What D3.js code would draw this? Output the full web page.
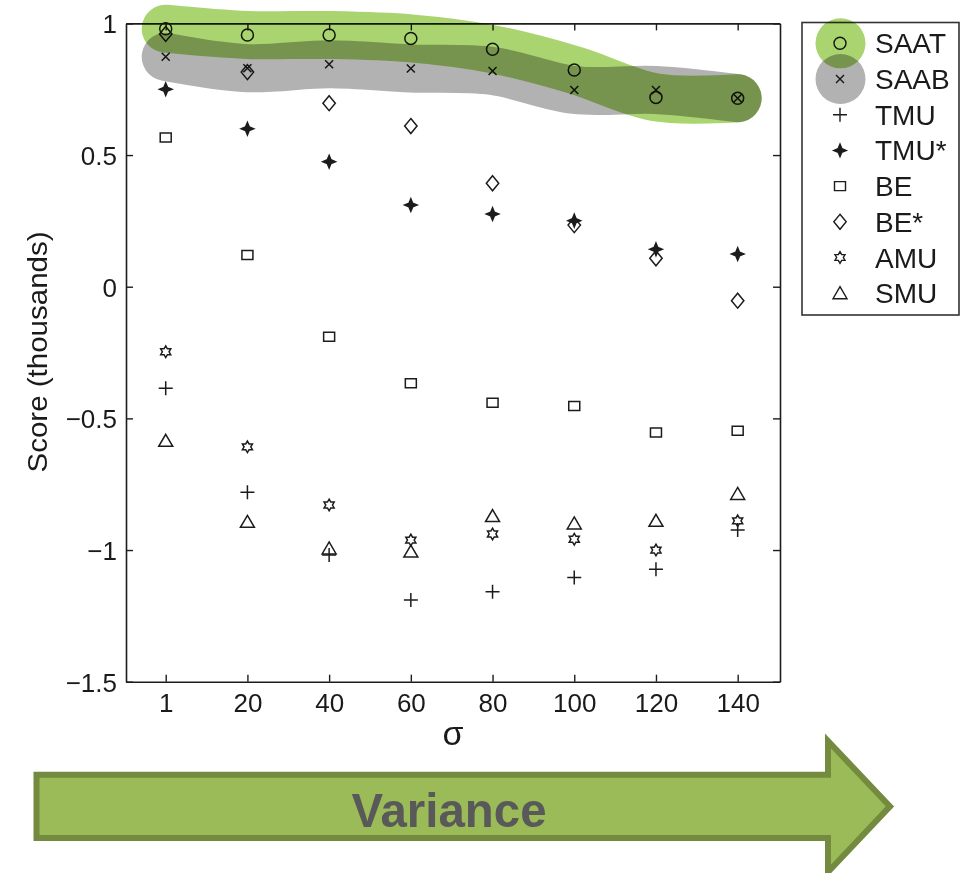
<!DOCTYPE html>
<html>
<head>
<meta charset="utf-8">
<script src="https://cdn.jsdelivr.net/npm/d3@7"></script>
<style>
  html, body { margin: 0; padding: 0; background: #ffffff; }
  svg { display: block; background: #ffffff; }
  text { font-family: "Liberation Sans", Arial, Helvetica, sans-serif; }
</style>
</head>
<body>
<script>
// ---------- data ----------
const sigmaLabels = ["1", "20", "40", "60", "80", "100", "120", "140"];
const yTickValues = [1, 0.5, 0, -0.5, -1, -1.5];
const seriesNames = ["SAAT", "SAAB", "TMU", "TMU*", "BE", "BE*", "AMU", "SMU"];
const saat    = [0.980, 0.956, 0.956, 0.943, 0.902, 0.823, 0.719, 0.716];
const saab    = [0.873, 0.830, 0.845, 0.829, 0.819, 0.747, 0.747, 0.716];
const tmu     = [-0.386, -0.781, -1.019, -1.190, -1.158, -1.104, -1.073, -0.924];
const tmuStar = [0.750, 0.600, 0.475, 0.310, 0.276, 0.251, 0.142, 0.124];
const be      = [0.567, 0.120, -0.190, -0.367, -0.441, -0.453, -0.554, -0.547];
const beStar  = [0.960, 0.815, 0.697, 0.610, 0.393, 0.234, 0.108, -0.053];
const amu     = [-0.247, -0.608, -0.829, -0.962, -0.939, -0.959, -1.000, -0.889];
const smu     = [-0.585, -0.893, -0.994, -1.006, -0.871, -0.899, -0.889, -0.787];
const highlightSeries = ["SAAT", "SAAB"];
const xTitle = "σ";
const yTitle = "Score (thousands)";
const arrowLabel = "Variance";

// ---------- layout ----------
const W = 962, H = 873;
const plot = { left: 126, right: 780, top: 23.4, bottom: 681.7 };
const ink = "#1c1c1c";
const greenBand = "#a9d470", grayBand = "#b2b2b2";

const svg = d3.select("body").append("svg").attr("width", W).attr("height", H);

const x = d3.scaleLinear().domain([-0.486, 7.518]).range([plot.left, plot.right]);
const y = d3.scaleLinear().domain([-1.5, 1]).range([plot.bottom, plot.top]);
const idx = sigmaLabels.map((_, i) => i);

// marker shapes
function starPath(n, rOut, rIn) {
  const pts = [];
  for (let k = 0; k < 2 * n; k++) {
    const r = k % 2 === 0 ? rOut : rIn;
    const a = -Math.PI / 2 + k * Math.PI / n;
    pts.push([r * Math.cos(a), r * Math.sin(a)]);
  }
  return "M" + pts.map(p => p[0].toFixed(2) + "," + p[1].toFixed(2)).join("L") + "Z";
}
const shapes = {
  "SAAT": { d: "M-6,0a6,6 0 1,0 12,0a6,6 0 1,0 -12,0", fill: "none" },
  "SAAB": { d: "M-4,-4L4,4M-4,4L4,-4", fill: "none" },
  "TMU":  { d: "M-7,0H7M0,-7V7", fill: "none" },
  "TMU*": { d: starPath(4, 6.3, 2.6) + "M-6.5,0H6.5M0,-6.5V6.5", fill: ink },
  "BE":   { d: "M-5.5,-4.5h11v9h-11z", fill: "none" },
  "BE*":  { d: "M0,-7.5L6.2,0L0,7.5L-6.2,0Z", fill: "none" },
  "AMU":  { d: starPath(6, 5.8, 3.35), fill: "none" },
  "SMU":  { d: "M0,-6.5L7,5.5H-7Z", fill: "none" }
};
const seriesData = { "SAAT": saat, "SAAB": saab, "TMU": tmu, "TMU*": tmuStar,
                     "BE": be, "BE*": beStar, "AMU": amu, "SMU": smu };

// ---------- axes ----------
const fmt = d => d === 0 ? "0" : String(d).replace("-", "\u2212");

const gBottom = svg.append("g").attr("transform", `translate(0,${plot.bottom})`)
  .call(d3.axisBottom(x).tickValues(idx).tickFormat(i => sigmaLabels[i])
        .tickSizeInner(-7).tickSizeOuter(0).tickPadding(12));
const gLeft = svg.append("g").attr("transform", `translate(${plot.left},0)`)
  .call(d3.axisLeft(y).tickValues(yTickValues).tickFormat(fmt)
        .tickSizeInner(-7).tickSizeOuter(0).tickPadding(9));
const gTop = svg.append("g").attr("transform", `translate(0,${plot.top})`)
  .call(d3.axisTop(x).tickValues(idx).tickFormat("").tickSizeInner(-7).tickSizeOuter(0));
const gRight = svg.append("g").attr("transform", `translate(${plot.right},0)`)
  .call(d3.axisRight(y).tickValues(yTickValues).tickFormat("").tickSizeInner(-7).tickSizeOuter(0));

[gBottom, gLeft, gTop, gRight].forEach(g => {
  g.select(".domain").attr("stroke", ink).attr("stroke-width", 1.6);
  g.selectAll(".tick line").attr("stroke", ink).attr("stroke-width", 1.4);
  g.selectAll(".tick text").attr("fill", "#1a1a1a").attr("font-size", 26)
    .attr("font-family", "'Liberation Sans', Arial, sans-serif");
});
gLeft.selectAll(".tick text").attr("dy", "0.36em");

// axis titles
svg.append("text")
  .attr("transform", `translate(47,352) rotate(-90)`)
  .attr("text-anchor", "middle")
  .attr("font-size", 28)
  .attr("textLength", 241).attr("lengthAdjust", "spacingAndGlyphs")
  .attr("fill", "#1a1a1a")
  .text(yTitle);

svg.append("text")
  .attr("x", (plot.left + plot.right) / 2).attr("y", 745)
  .attr("text-anchor", "middle")
  .attr("font-size", 34)
  .attr("font-family", "'Liberation Serif', 'DejaVu Serif', serif")
  .attr("fill", "#1a1a1a")
  .text(xTitle);

// ---------- markers ----------
seriesNames.forEach(name => {
  const vals = seriesData[name];
  svg.append("g").selectAll("path").data(vals).join("path")
    .attr("transform", (v, i) => `translate(${x(i)},${y(v)})`)
    .attr("d", shapes[name].d)
    .attr("fill", shapes[name].fill)
    .attr("stroke", ink)
    .attr("stroke-width", 1.5);
});

// ---------- highlight bands (multiply blend) ----------
const line = d3.line().x((v, i) => x(i)).y(v => y(v)).curve(d3.curveCatmullRom.alpha(0.5));
const bandColors = { "SAAT": greenBand, "SAAB": grayBand };
["SAAB", "SAAT"].forEach(name => {
  svg.append("path")
    .attr("d", line(seriesData[name]))
    .attr("fill", "none")
    .attr("stroke", bandColors[name])
    .attr("stroke-width", 48)
    .attr("stroke-linecap", "round")
    .attr("stroke-linejoin", "round")
    .style("mix-blend-mode", "multiply");
});

// ---------- legend ----------
const leg = svg.append("g");
leg.append("rect")
  .attr("x", 802).attr("y", 22.5).attr("width", 157).attr("height", 292.5)
  .attr("fill", "#ffffff").attr("stroke", "#333333").attr("stroke-width", 1.6);
const legY = i => 43.3 + i * 35.7;
seriesNames.forEach((name, i) => {
  leg.append("path")
    .attr("transform", `translate(840,${legY(i)})`)
    .attr("d", shapes[name].d)
    .attr("fill", shapes[name].fill)
    .attr("stroke", ink).attr("stroke-width", 1.4);
  leg.append("text")
    .attr("x", 875).attr("y", legY(i)).attr("dy", "0.36em")
    .attr("font-size", 28).attr("fill", "#1a1a1a")
    .text(name);
});
highlightSeries.slice().reverse().forEach(name => {
  const i = seriesNames.indexOf(name);
  leg.append("circle")
    .attr("cx", 840.5).attr("cy", legY(i)).attr("r", 25)
    .attr("fill", bandColors[name])
    .style("mix-blend-mode", "multiply");
});

// ---------- variance arrow ----------
const arrow = d3.path();
arrow.moveTo(36.5, 774.7);
arrow.lineTo(828, 774.7);
arrow.lineTo(828, 741);
arrow.lineTo(890, 806.4);
arrow.lineTo(828, 872);
arrow.lineTo(828, 838);
arrow.lineTo(36.5, 838);
arrow.closePath();
svg.append("path")
  .attr("d", arrow.toString())
  .attr("fill", "#9bbb59")
  .attr("stroke", "#738a3f")
  .attr("stroke-width", 6)
  .attr("stroke-linejoin", "miter");
svg.append("text")
  .attr("x", 449).attr("y", 826.7)
  .attr("text-anchor", "middle")
  .attr("font-size", 49).attr("font-weight", "bold")
  .attr("textLength", 195).attr("lengthAdjust", "spacingAndGlyphs")
  .attr("fill", "#595959")
  .text(arrowLabel);
</script>
</body>
</html>
